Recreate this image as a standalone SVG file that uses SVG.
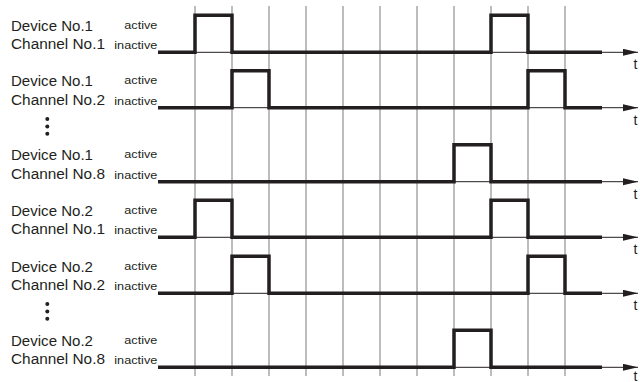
<svg xmlns="http://www.w3.org/2000/svg" width="640" height="382" viewBox="0 0 640 382">
<defs>
<style>
.lbl{font-family:"Liberation Sans",Arial,sans-serif;font-size:14px;fill:#231f20}
.st{font-family:"Liberation Sans",Arial,sans-serif;font-size:11.5px;fill:#231f20}
.t{font-family:"Liberation Sans",Arial,sans-serif;font-size:14px;fill:#231f20}
.grid{stroke:#7a7a7a;stroke-width:1;fill:none}
.axis{stroke:#231f20;stroke-width:1;fill:none}
.sig{stroke:#231f20;stroke-width:3.5;fill:none;stroke-linejoin:miter;stroke-linecap:butt}
.dot{fill:#231f20}
</style>
<marker id="arr" markerUnits="userSpaceOnUse" markerWidth="16" markerHeight="8" refX="15" refY="3.5" orient="auto">
<path d="M0,0 L15,3.5 L0,7 z" fill="#231f20"/>
</marker>
</defs>
<g id="grid">
<line class="grid" x1="195" y1="6" x2="195" y2="376"/>
<line class="grid" x1="232" y1="6" x2="232" y2="376"/>
<line class="grid" x1="269" y1="6" x2="269" y2="376"/>
<line class="grid" x1="306" y1="6" x2="306" y2="376"/>
<line class="grid" x1="343" y1="6" x2="343" y2="376"/>
<line class="grid" x1="380" y1="6" x2="380" y2="376"/>
<line class="grid" x1="417" y1="6" x2="417" y2="376"/>
<line class="grid" x1="454" y1="6" x2="454" y2="376"/>
<line class="grid" x1="491" y1="6" x2="491" y2="376"/>
<line class="grid" x1="528" y1="6" x2="528" y2="376"/>
<line class="grid" x1="565" y1="6" x2="565" y2="376"/>
</g>
<g id="connectors">
<line class="axis" x1="158" y1="52.3" x2="638" y2="52.3" marker-end="url(#arr)"/>
<line class="axis" x1="158" y1="107.7" x2="638" y2="107.7" marker-end="url(#arr)"/>
<line class="axis" x1="158" y1="181.7" x2="638" y2="181.7" marker-end="url(#arr)"/>
<line class="axis" x1="158" y1="237.3" x2="638" y2="237.3" marker-end="url(#arr)"/>
<line class="axis" x1="158" y1="293.3" x2="638" y2="293.3" marker-end="url(#arr)"/>
<line class="axis" x1="158" y1="367.3" x2="638" y2="367.3" marker-end="url(#arr)"/>
</g>
<g id="row1">
<text class="lbl" x="11" y="30.7" textLength="82" lengthAdjust="spacingAndGlyphs">Device No.1</text>
<text class="lbl" x="11" y="49.3" textLength="94" lengthAdjust="spacingAndGlyphs">Channel No.1</text>
<text class="st" x="124.3" y="28.5" textLength="33" lengthAdjust="spacingAndGlyphs">active</text>
<text class="st" x="114.3" y="49.3" textLength="43" lengthAdjust="spacingAndGlyphs">inactive</text>
<path class="sig" d="M158,52.3 H195 V15.3 H232 V52.3 H491 V15.3 H528 V52.3 H602"/>
<text class="t" x="633.5" y="69.3">t</text>
</g>
<g id="row2">
<text class="lbl" x="11" y="86.1" textLength="82" lengthAdjust="spacingAndGlyphs">Device No.1</text>
<text class="lbl" x="11" y="104.7" textLength="94" lengthAdjust="spacingAndGlyphs">Channel No.2</text>
<text class="st" x="124.3" y="83.9" textLength="33" lengthAdjust="spacingAndGlyphs">active</text>
<text class="st" x="114.3" y="104.7" textLength="43" lengthAdjust="spacingAndGlyphs">inactive</text>
<path class="sig" d="M158,107.7 H232 V70.7 H269 V107.7 H528 V70.7 H565 V107.7 H602"/>
<text class="t" x="633.5" y="124.7">t</text>
</g>
<g id="dots1">
<circle class="dot" cx="47.3" cy="119" r="2"/>
<circle class="dot" cx="47.3" cy="126.4" r="2"/>
<circle class="dot" cx="47.3" cy="133.8" r="2"/>
</g>
<g id="row3">
<text class="lbl" x="11" y="160.1" textLength="82" lengthAdjust="spacingAndGlyphs">Device No.1</text>
<text class="lbl" x="11" y="178.7" textLength="94" lengthAdjust="spacingAndGlyphs">Channel No.8</text>
<text class="st" x="124.3" y="157.9" textLength="33" lengthAdjust="spacingAndGlyphs">active</text>
<text class="st" x="114.3" y="178.7" textLength="43" lengthAdjust="spacingAndGlyphs">inactive</text>
<path class="sig" d="M158,181.7 H454 V144.7 H491 V181.7 H602"/>
<text class="t" x="633.5" y="198.7">t</text>
</g>
<g id="row4">
<text class="lbl" x="11" y="215.7" textLength="82" lengthAdjust="spacingAndGlyphs">Device No.2</text>
<text class="lbl" x="11" y="234.3" textLength="94" lengthAdjust="spacingAndGlyphs">Channel No.1</text>
<text class="st" x="124.3" y="213.5" textLength="33" lengthAdjust="spacingAndGlyphs">active</text>
<text class="st" x="114.3" y="234.3" textLength="43" lengthAdjust="spacingAndGlyphs">inactive</text>
<path class="sig" d="M158,237.3 H195 V200.3 H232 V237.3 H491 V200.3 H528 V237.3 H602"/>
<text class="t" x="633.5" y="254.3">t</text>
</g>
<g id="row5">
<text class="lbl" x="11" y="271.7" textLength="82" lengthAdjust="spacingAndGlyphs">Device No.2</text>
<text class="lbl" x="11" y="290.3" textLength="94" lengthAdjust="spacingAndGlyphs">Channel No.2</text>
<text class="st" x="124.3" y="269.5" textLength="33" lengthAdjust="spacingAndGlyphs">active</text>
<text class="st" x="114.3" y="290.3" textLength="43" lengthAdjust="spacingAndGlyphs">inactive</text>
<path class="sig" d="M158,293.3 H232 V256.3 H269 V293.3 H528 V256.3 H565 V293.3 H602"/>
<text class="t" x="633.5" y="310.3">t</text>
</g>
<g id="dots2">
<circle class="dot" cx="47.3" cy="304" r="2"/>
<circle class="dot" cx="47.3" cy="311.4" r="2"/>
<circle class="dot" cx="47.3" cy="318.8" r="2"/>
</g>
<g id="row6">
<text class="lbl" x="11" y="345.7" textLength="82" lengthAdjust="spacingAndGlyphs">Device No.2</text>
<text class="lbl" x="11" y="364.3" textLength="94" lengthAdjust="spacingAndGlyphs">Channel No.8</text>
<text class="st" x="124.3" y="343.5" textLength="33" lengthAdjust="spacingAndGlyphs">active</text>
<text class="st" x="114.3" y="364.3" textLength="43" lengthAdjust="spacingAndGlyphs">inactive</text>
<path class="sig" d="M158,367.3 H454 V330.3 H491 V367.3 H602"/>
<text class="t" x="633.5" y="380.5">t</text>
</g>
</svg>
